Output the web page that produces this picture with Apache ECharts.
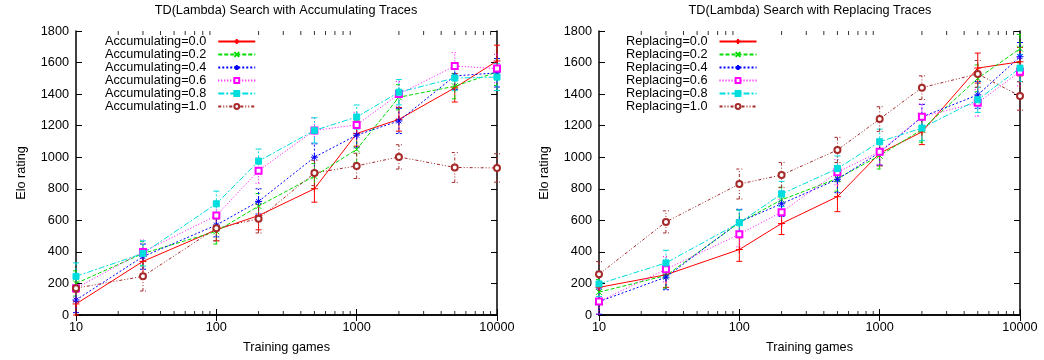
<!DOCTYPE html>
<html>
<head>
<meta charset="utf-8">
<script src="https://cdn.jsdelivr.net/npm/echarts@6/dist/echarts.min.js"></script>
<style>
  html, body { margin: 0; padding: 0; background: #fff; }
  #chart { width: 1044px; height: 360px; }
</style>
</head>
<body>
<div id="chart"></div>
<script>
// training games on the x axis (log)
var games = [10, 30, 100, 200, 500, 1000, 2000, 5000, 10000];
var lambdas = ['0.0', '0.2', '0.4', '0.6', '0.8', '1.0'];
var minorTicks = [20, 30, 40, 50, 60, 70, 80, 90, 200, 300, 400, 500, 600, 700, 800, 900,
                  2000, 3000, 4000, 5000, 6000, 7000, 8000, 9000];

// Elo ratings, accumulating traces
var accElo = [
    [70, 340, 540, 630, 800, 1150, 1240, 1440, 1610],
    [200, 390, 530, 690, 880, 1050, 1380, 1450, 1540],
    [95, 370, 570, 720, 1000, 1140, 1230, 1515, 1535],
    [170, 400, 630, 915, 1170, 1205, 1400, 1578, 1562],
    [245, 390, 705, 975, 1170, 1255, 1412, 1502, 1508],
    [170, 245, 550, 610, 900, 945, 1002, 935, 932]
];
var accErr = [
    [75, 80, 70, 90, 85, 80, 75, 90, 100],
    [80, 75, 80, 80, 80, 85, 80, 80, 85],
    [80, 80, 75, 80, 85, 80, 80, 85, 90],
    [80, 75, 80, 80, 80, 80, 80, 85, 90],
    [85, 80, 80, 77, 80, 76, 80, 80, 85],
    [85, 93, 80, 90, 80, 80, 77, 95, 90]
];

// Elo ratings, replacing traces
var repElo = [
    [175, 255, 415, 580, 750, 1025, 1160, 1565, 1605],
    [145, 250, 585, 730, 865, 1010, 1175, 1500, 1688],
    [85, 240, 590, 705, 860, 1030, 1255, 1395, 1637],
    [85, 290, 512, 652, 905, 1035, 1257, 1345, 1542],
    [197, 330, 585, 767, 928, 1098, 1185, 1364, 1565],
    [258, 590, 830, 887, 1046, 1242, 1441, 1528, 1388]
];
var repErr = [
    [80, 80, 75, 70, 95, 80, 80, 95, 90],
    [80, 80, 80, 80, 80, 85, 80, 85, 90],
    [80, 80, 80, 80, 85, 80, 80, 85, 90],
    [80, 80, 80, 80, 80, 80, 80, 85, 90],
    [80, 80, 80, 80, 80, 80, 80, 80, 85],
    [80, 70, 95, 80, 80, 78, 75, 85, 90]
];

var colors = ['#ff0000', '#00dd00', '#0000ff', '#ff00ff', '#00dddd', '#a52a2a'];
var dashes = ['solid', [4, 2], [2, 2], [1, 2], [6, 2, 2, 2], [3, 2, 1, 2, 1, 2]];
var symbols = [
    'path://M0,5L10,5M5,0L5,10',
    'path://M0,0L10,10M10,0L0,10',
    'path://M0,5L10,5M5,0L5,10M1.5,1.5L8.5,8.5M8.5,1.5L1.5,8.5',
    'emptyRect',
    'rect',
    'emptyCircle'
];
var symbolSizes = [7, 6, 7, 6, 6, 6];

var font = 'Liberation Sans, Arial, sans-serif';
var fs = 12.7;

var myChart = echarts.init(document.getElementById('chart'));

function buildAxes(gi) {
    var line = { lineStyle: { color: '#000', width: 1.5 } };
    var x = [{
        type: 'log', logBase: 10, gridIndex: gi, min: 10, max: 10000, splitNumber: 3,
        position: 'bottom',
        name: 'Training games', nameLocation: 'middle', nameGap: 26,
        nameTextStyle: { color: '#000', fontSize: fs, fontFamily: font },
        axisLine: line,
        axisTick: { inside: true, length: 6, lineStyle: { color: '#000' } },
        axisLabel: { margin: 6, color: '#000', fontSize: fs, fontFamily: font,
            formatter: function (v) { return String(Math.round(v)); } },
        splitLine: { show: false }
    }, {
        type: 'log', logBase: 10, gridIndex: gi, min: 10, max: 10000, splitNumber: 3,
        position: 'top',
        axisLine: line,
        axisTick: { inside: true, length: 6, lineStyle: { color: '#000' } },
        axisLabel: { show: false },
        splitLine: { show: false }
    }];
    var y = [{
        type: 'value', gridIndex: gi, min: 0, max: 1800, interval: 200,
        position: 'left',
        name: 'Elo rating', nameLocation: 'middle', nameGap: 48,
        nameTextStyle: { color: '#000', fontSize: fs, fontFamily: font },
        axisLine: line,
        axisTick: { inside: true, length: 6, lineStyle: { color: '#000' } },
        axisLabel: { margin: 7, color: '#000', fontSize: fs, fontFamily: font,
            formatter: function (v) { return String(v); } },
        splitLine: { show: false }
    }, {
        type: 'value', gridIndex: gi, min: 0, max: 1800, interval: 200,
        position: 'right',
        axisLine: line,
        axisTick: { inside: true, length: 6, lineStyle: { color: '#000' } },
        axisLabel: { show: false },
        splitLine: { show: false }
    }];
    return { x: x, y: y };
}

function errorBarRender(dash) {
    return function (params, api) {
        var x = api.value(0);
        var lo = api.coord([x, api.value(1)]);
        var hi = api.coord([x, api.value(2)]);
        var w = 3;
        var style = { stroke: api.visual('color'), lineWidth: 1, lineDash: dash === 'solid' ? null : dash };
        return {
            type: 'group',
            children: [
                { type: 'line', shape: { x1: lo[0], y1: lo[1], x2: hi[0], y2: hi[1] }, style: style },
                { type: 'line', shape: { x1: lo[0] - w, y1: lo[1], x2: lo[0] + w, y2: lo[1] }, style: style },
                { type: 'line', shape: { x1: hi[0] - w, y1: hi[1], x2: hi[0] + w, y2: hi[1] }, style: style }
            ]
        };
    };
}

var xAxes = [], yAxes = [], series = [], legends = [];
var panels = [
    { prefix: 'Accumulating=', elo: accElo, err: accErr, legendLeft: 105 },
    { prefix: 'Replacing=', elo: repElo, err: repErr, legendLeft: 626 }
];

panels.forEach(function (p, gi) {
    var ax = buildAxes(gi);
    xAxes = xAxes.concat(ax.x);
    yAxes = yAxes.concat(ax.y);
    var xi = gi * 2, yi = gi * 2;
    var names = [];
    lambdas.forEach(function (l, k) {
        var name = p.prefix + l;
        names.push(name);
        var errData = games.map(function (g, j) {
            return [g, Math.max(0, p.elo[k][j] - p.err[k][j]), Math.min(1800, p.elo[k][j] + p.err[k][j])];
        });
        series.push({
            type: 'custom', name: name + ' err', xAxisIndex: xi, yAxisIndex: yi,
            renderItem: errorBarRender(dashes[k]),
            itemStyle: { color: colors[k] },
            encode: { x: 0, y: [1, 2] },
            data: errData, z: 2, silent: true
        });
        series.push({
            type: 'line', name: name, xAxisIndex: xi, yAxisIndex: yi,
            data: games.map(function (g, j) { return [g, p.elo[k][j]]; }),
            symbol: symbols[k], symbolSize: symbolSizes[k],
            lineStyle: { color: colors[k], width: 1, type: dashes[k] },
            itemStyle: { color: colors[k], borderColor: colors[k], borderWidth: 1 },
            z: 3
        });
    });
    // minor log ticks, bottom and top edges
    series.push({
        type: 'scatter', name: 'minorB' + gi, xAxisIndex: xi, yAxisIndex: yi,
        data: minorTicks.map(function (v) { return [v, 0]; }),
        symbol: 'rect', symbolSize: [1, 4], symbolOffset: [0, -2],
        itemStyle: { color: '#000' }, clip: false, silent: true, z: 5
    });
    series.push({
        type: 'scatter', name: 'minorT' + gi, xAxisIndex: xi, yAxisIndex: yi,
        data: minorTicks.map(function (v) { return [v, 1800]; }),
        symbol: 'rect', symbolSize: [1, 4], symbolOffset: [0, 2],
        itemStyle: { color: '#000' }, clip: false, silent: true, z: 5
    });
    legends.push({
        data: names, orient: 'vertical', align: 'right',
        left: p.legendLeft, top: 35, padding: 0, itemGap: 0,
        itemWidth: 37, itemHeight: 6,
        formatter: function (n) { return n + '  '; },
        textStyle: { color: '#000', fontSize: fs, fontFamily: font, lineHeight: 13 },
        selectedMode: false
    });
});

var option = {
    animation: false,
    backgroundColor: '#fff',
    title: [{
        text: 'TD(Lambda) Search with Accumulating Traces', left: 286, top: 4, textAlign: 'center', padding: 0,
        textStyle: { color: '#000', fontSize: fs, fontWeight: 'normal', fontFamily: font }
    }, {
        text: 'TD(Lambda) Search with Replacing Traces', left: 810, top: 4, textAlign: 'center', padding: 0,
        textStyle: { color: '#000', fontSize: fs, fontWeight: 'normal', fontFamily: font }
    }],
    legend: legends,
    grid: [
        { left: 76, right: 1044 - 497, top: 31, bottom: 45 },
        { left: 599, right: 1044 - 1020, top: 31, bottom: 45 }
    ],
    xAxis: xAxes,
    yAxis: yAxes,
    series: series
};
myChart.setOption(option);
</script>
</body>
</html>
